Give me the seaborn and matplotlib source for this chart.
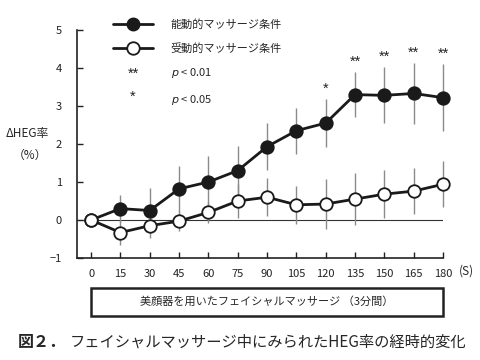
import numpy as np
import pandas as pd
import seaborn as sns
import matplotlib.pyplot as plt
from matplotlib.lines import Line2D
from matplotlib.patches import Rectangle

seconds = [0, 15, 30, 45, 60, 75, 90, 105, 120, 135, 150, 165, 180]
active_mean = [0, 0.30, 0.25, 0.82, 1.00, 1.30, 1.93, 2.35, 2.55, 3.30, 3.28, 3.33, 3.22]
active_sd = [0, 0.35, 0.60, 0.60, 0.68, 0.65, 0.62, 0.60, 0.63, 0.60, 0.74, 0.80, 0.88]
passive_mean = [0, -0.33, -0.15, -0.03, 0.20, 0.50, 0.60, 0.40, 0.42, 0.55, 0.68, 0.76, 0.94]
passive_sd = [0, 0.33, 0.32, 0.27, 0.28, 0.45, 0.50, 0.50, 0.65, 0.68, 0.63, 0.60, 0.60]
active_sig = ['', '', '', '', '', '', '', '', '*', '**', '**', '**', '**']

cond_active = '能動的マッサージ条件'
cond_passive = '受動的マッサージ条件'

df = pd.concat([
    pd.DataFrame({'秒': seconds, 'HEG': active_mean, 'SD': active_sd, '条件': cond_active}),
    pd.DataFrame({'秒': seconds, 'HEG': passive_mean, 'SD': passive_sd, '条件': cond_passive}),
])

sns.set_style('ticks')
plt.rcParams['font.family'] = ['Noto Sans CJK JP', 'DejaVu Sans']

fig = plt.figure(figsize=(4.8, 3.6), dpi=100)
ax = fig.add_axes([77 / 480, 1 - 258 / 360, (443 - 77) / 480, 228 / 360])

# 標準偏差のエラーバー
for _, g in df.groupby('条件'):
    ax.vlines(g['秒'], g['HEG'] - g['SD'], g['HEG'] + g['SD'], color='#8a8a8a', lw=1,
              zorder=1, clip_on=False)

ax.axhline(0, color='#333333', lw=0.8, zorder=0)

sns.lineplot(data=df, x='秒', y='HEG', hue='条件', style='条件',
             hue_order=[cond_active, cond_passive],
             palette=['#1a1a1a', '#1a1a1a'], markers=['o', 'o'], dashes=False,
             lw=2, ms=9, mec='#1a1a1a', mew=1.3, legend=False, ax=ax, zorder=3, clip_on=False)
ax.lines[-1].set_markerfacecolor('white')

# 有意差の記号
for s, m, sd, sig in zip(seconds, active_mean, active_sd, active_sig):
    if sig:
        ax.text(s, m + sd + 0.08, sig, ha='center', va='bottom', fontsize=10.5,
                color='#222222', family='Liberation Sans')

ax.set_xlim(-7.2, 180)
ax.set_ylim(-1, 5)
ax.set_xticks(seconds)
ax.set_yticks(range(-1, 6))
ax.set_yticklabels(['−1', '0', '1', '2', '3', '4', '5'])
ax.tick_params(direction='in', length=4, width=1, labelsize=8, colors='#222222', pad=8)
ax.tick_params(axis='y', pad=11)
for side in ['left', 'bottom']:
    ax.spines[side].set_linewidth(1.2)
    ax.spines[side].set_color('#222222')
sns.despine(ax=ax)
ax.set_xlabel('')
ax.set_ylabel('')

fig.text(27 / 480, 1 - 133 / 360, 'ΔHEG率', ha='center', va='center', fontsize=8.5)
fig.text(30 / 480, 1 - 155 / 360, '（%）', ha='center', va='center', fontsize=8.5)
fig.text(466 / 480, 1 - 271 / 360, '(S)', ha='center', va='center', fontsize=8.5)

handles = [
    Line2D([], [], color='#1a1a1a', lw=2, marker='o', ms=9, mfc='#1a1a1a', mec='#1a1a1a'),
    Line2D([], [], color='#1a1a1a', lw=2, marker='o', ms=9, mfc='white', mec='#1a1a1a', mew=1.3),
    Line2D([], [], ls='none'),
    Line2D([], [], ls='none'),
]
labels = [cond_active, cond_passive, '$p$ < 0.01', '$p$ < 0.05']
fig.legend(handles, labels, loc='upper left', bbox_to_anchor=(113 / 480, 1 - 19 / 360),
           frameon=False, fontsize=8, handlelength=3.6, handletextpad=1.6,
           labelspacing=1.15, borderpad=0, borderaxespad=0)
fig.text(133 / 480, 1 - 74 / 360, '**', ha='center', va='center', fontsize=10.5,
         family='Liberation Sans', color='#222222')
fig.text(133 / 480, 1 - 97 / 360, '*', ha='center', va='center', fontsize=10.5,
         family='Liberation Sans', color='#222222')

# 刺激期間の枠
fig.patches.append(Rectangle((91 / 480, 1 - 316 / 360), (443 - 91) / 480, 28 / 360,
                             transform=fig.transFigure, fill=False, lw=1.8, ec='#222222'))
fig.text(267 / 480, 1 - 302 / 360, '美顔器を用いたフェイシャルマッサージ （3分間）',
         ha='center', va='center', fontsize=8)

fig.text(18 / 480, 1 - 342 / 360, '図２．', ha='left', va='center', fontsize=11.5, weight='bold')
fig.text(70 / 480, 1 - 342 / 360, 'フェイシャルマッサージ中にみられたHEG率の経時的変化',
         ha='left', va='center', fontsize=11)

fig.savefig('out.png', dpi=100)
